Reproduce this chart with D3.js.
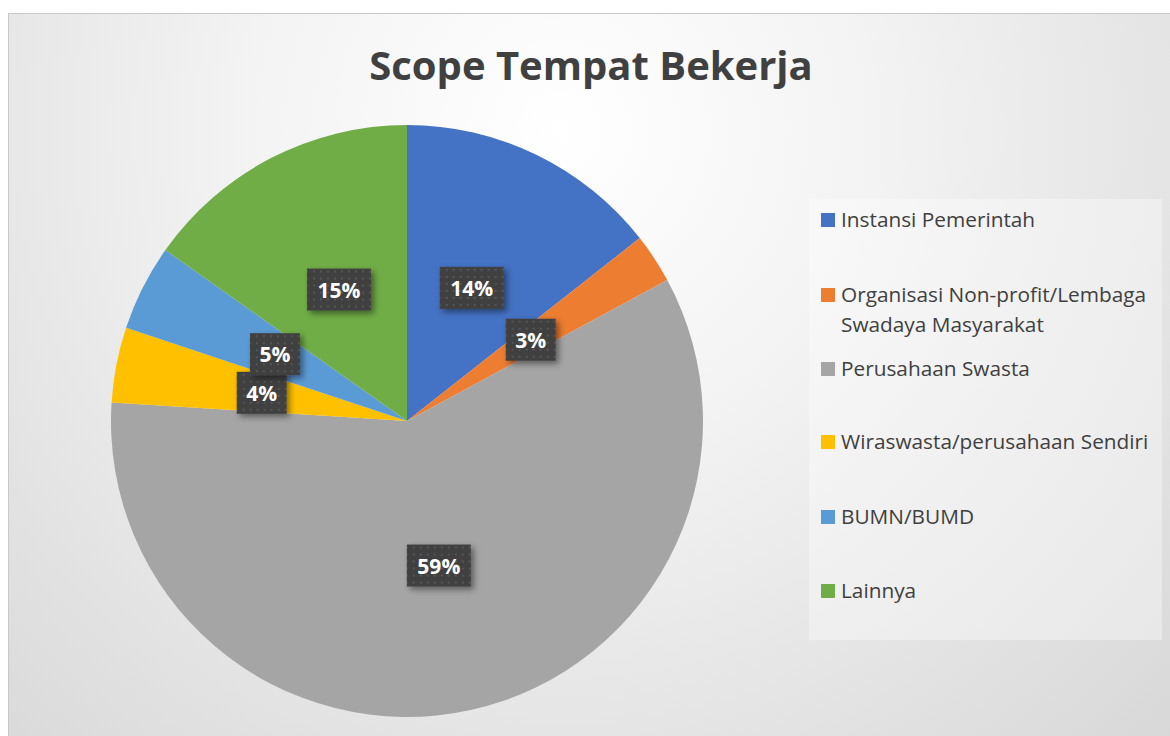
<!DOCTYPE html>
<html>
<head>
<meta charset="utf-8">
<script src="https://cdn.jsdelivr.net/npm/d3@7"></script>
<style>
  body { margin: 0; background: #fff; }
  text { font-family: "Open Sans", "Noto Sans", sans-serif; }
</style>
</head>
<body>
<div id="chart_container"></div>
<script>
    var width = 1170,
        height = 736;

    // share per category
    var data = [
      { name: "Instansi Pemerintah", value: 14.4, color: "#4472C4" },
      { name: "Organisasi Non-profit/Lembaga|Swadaya Masyarakat", value: 2.7, color: "#ED7D31" },
      { name: "Perusahaan Swasta", value: 58.9, color: "#A5A5A5" },
      { name: "Wiraswasta/perusahaan Sendiri", value: 4.1, color: "#FFC000" },
      { name: "BUMN/BUMD", value: 4.7, color: "#5B9BD5" },
      { name: "Lainnya", value: 15.2, color: "#70AD47" }
    ];

    var cx = 407, cy = 421, radius = 296;

    var svg = d3.select("#chart_container").append("svg")
      .attr("width", width)
      .attr("height", height);

    var defs = svg.append("defs");

    var grad = defs.append("radialGradient")
      .attr("id", "bg")
      .attr("gradientUnits", "userSpaceOnUse")
      .attr("cx", 560).attr("cy", 130).attr("r", 900);
    grad.append("stop").attr("offset", "0%").attr("stop-color", "#ffffff");
    grad.append("stop").attr("offset", "35%").attr("stop-color", "#f3f3f3");
    grad.append("stop").attr("offset", "100%").attr("stop-color", "#d6d6d6");

    var pat = defs.append("pattern")
      .attr("id", "dots")
      .attr("patternUnits", "userSpaceOnUse")
      .attr("width", 7).attr("height", 7);
    pat.append("rect").attr("width", 7).attr("height", 7).attr("fill", "#404040");
    pat.append("rect").attr("x", 2).attr("y", 2).attr("width", 2).attr("height", 2).attr("fill", "#555555");

    var shadow = defs.append("filter")
      .attr("id", "shadow")
      .attr("x", "-30%").attr("y", "-30%").attr("width", "170%").attr("height", "170%");
    shadow.append("feDropShadow")
      .attr("dx", 3).attr("dy", 3).attr("stdDeviation", 3)
      .attr("flood-color", "#000").attr("flood-opacity", 0.45);

    // chart area
    svg.append("rect")
      .attr("x", 8.5).attr("y", 13.5)
      .attr("width", width).attr("height", height)
      .attr("fill", "url(#bg)")
      .attr("stroke", "#c8c8c8");

    svg.append("text")
      .attr("x", 591).attr("y", 80)
      .attr("text-anchor", "middle")
      .attr("font-size", 40)
      .attr("font-weight", "bold")
      .attr("fill", "#404040")
      .text("Scope Tempat Bekerja");

    var pie = d3.pie()
      .sort(null)
      .value(function(d) { return d.value; });

    var arc = d3.arc()
      .innerRadius(0)
      .outerRadius(radius);

    var arcs = pie(data);

    var g = svg.append("g")
      .attr("transform", "translate(" + cx + "," + cy + ")");

    g.selectAll("path.slice")
      .data(arcs)
      .enter().append("path")
      .attr("class", "slice")
      .attr("fill", function(d) { return d.data.color; })
      .attr("d", arc);

    var labels = g.selectAll("g.label")
      .data(arcs)
      .enter().append("g")
      .attr("class", "label")
      .attr("transform", function(d) {
        var c = arc.centroid(d);
        return "translate(" + c[0] + "," + c[1] + ")";
      });

    labels.append("rect")
      .attr("x", function(d) { return Math.round(d.data.value) >= 10 ? -32 : -25; })
      .attr("y", -21)
      .attr("width", function(d) { return Math.round(d.data.value) >= 10 ? 64 : 50; })
      .attr("height", 42)
      .attr("fill", "url(#dots)")
      .attr("filter", "url(#shadow)");

    labels.append("text")
      .attr("text-anchor", "middle")
      .attr("dy", 8)
      .attr("font-size", 21)
      .attr("font-weight", "bold")
      .attr("fill", "#ffffff")
      .text(function(d) { return Math.round(d.data.value) + "%"; });

    // legend
    var legend = svg.append("g");

    legend.append("rect")
      .attr("x", 809).attr("y", 199)
      .attr("width", 353).attr("height", 441)
      .attr("fill", "#ffffff").attr("fill-opacity", 0.35);

    var rowY = [220, 295, 369, 442, 517, 591];

    var items = legend.selectAll("g.item")
      .data(data)
      .enter().append("g")
      .attr("class", "item")
      .attr("transform", function(d, i) { return "translate(821," + rowY[i] + ")"; });

    items.append("rect")
      .attr("x", 0).attr("y", -7)
      .attr("width", 14).attr("height", 14)
      .attr("fill", function(d) { return d.color; });

    items.each(function(d) {
      var t = d3.select(this).append("text")
        .attr("x", 20)
        .attr("font-size", 20.8)
        .attr("fill", "#404040");
      d.name.split("|").forEach(function(line, k) {
        t.append("tspan")
          .attr("x", 20)
          .attr("y", 7 + k * 30)
          .text(line);
      });
    });
</script>
</body>
</html>
